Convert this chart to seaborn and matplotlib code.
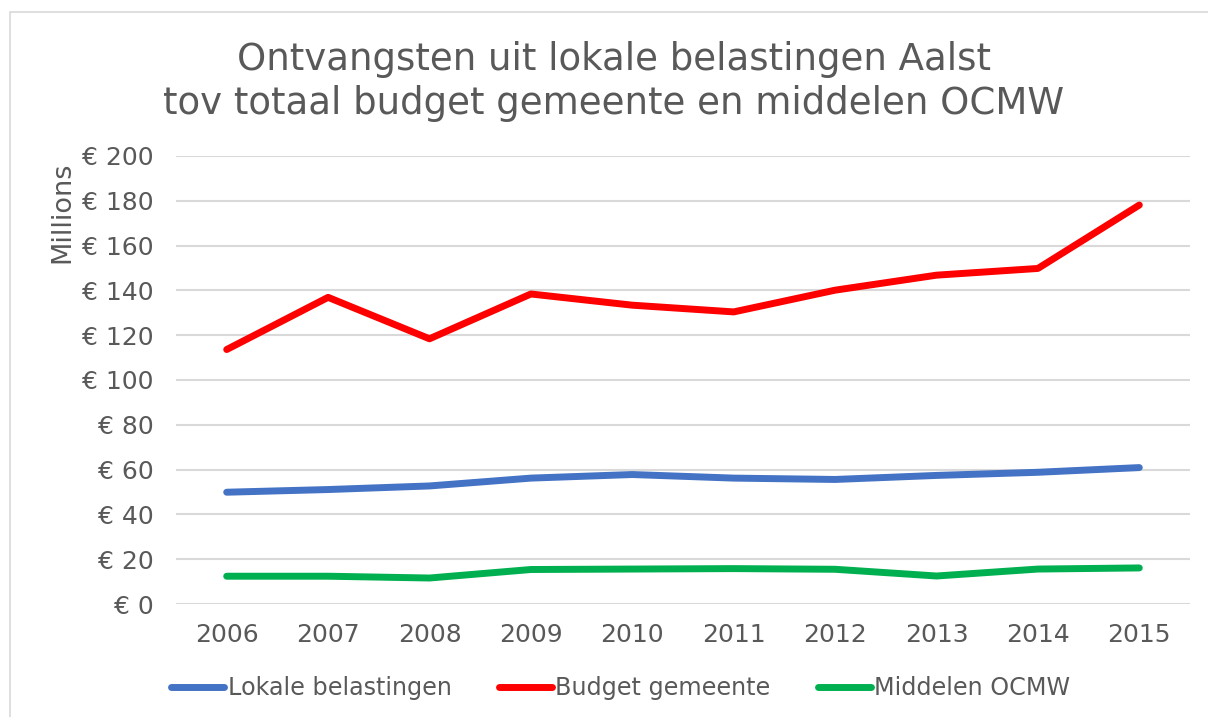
import pandas as pd
import matplotlib.pyplot as plt
import matplotlib.patches as patches
import seaborn as sns

years = ["2006", "2007", "2008", "2009", "2010", "2011", "2012", "2013", "2014", "2015"]
lokale_belastingen = [49.9, 51.1, 52.7, 56.2, 57.8, 56.2, 55.6, 57.4, 58.8, 60.9]
budget_gemeente = [113.6, 136.9, 118.4, 138.4, 133.4, 130.4, 140.1, 146.8, 149.8, 178.1]
middelen_ocmw = [12.4, 12.4, 11.6, 15.4, 15.6, 15.8, 15.5, 12.5, 15.6, 16.1]
series_names = ["Lokale belastingen", "Budget gemeente", "Middelen OCMW"]
y_ticks = [0, 20, 40, 60, 80, 100, 120, 140, 160, 180, 200]

colors = {"Lokale belastingen": "#4472C4", "Budget gemeente": "#FF0000", "Middelen OCMW": "#00B050"}
text_color = "#595959"

rows = []
for name, values in zip(series_names, [lokale_belastingen, budget_gemeente, middelen_ocmw]):
    for i, (yr, v) in enumerate(zip(years, values)):
        rows.append({"pos": i, "Jaar": yr, "Waarde": v, "Reeks": name})
df = pd.DataFrame(rows)

sns.set_style("white")
plt.rcParams["font.family"] = ["DejaVu Sans"]

fig = plt.figure(figsize=(12.08, 7.17), dpi=100)
W, H = 1208, 717
ax = fig.add_axes([176 / W, 1 - 604 / H, (1190 - 176) / W, (604 - 156) / H])

# chart area border
fig.patches.append(patches.Rectangle((10 / W, -0.01), 1.02, 1 - 12 / H + 0.01,
                                     transform=fig.transFigure, fill=False,
                                     edgecolor="#d9d9d9", linewidth=1.2))

sns.lineplot(data=df, x="pos", y="Waarde", hue="Reeks", palette=colors,
             linewidth=5, ax=ax, legend=False, solid_capstyle="round")

ax.set_xlim(-0.5, 9.5)
ax.set_ylim(0, 200)
ax.set_yticks(y_ticks)
ax.set_yticklabels([f"€ {t}" for t in y_ticks])
ax.set_xticks(range(len(years)))
ax.set_xticklabels(years)
ax.tick_params(axis="both", length=0, labelsize=18, labelcolor=text_color)
ax.tick_params(axis="y", pad=16)
ax.tick_params(axis="x", pad=14)
ax.grid(axis="y", color="#d9d9d9", linewidth=1.5)
ax.set_axisbelow(True)
for s in ax.spines.values():
    s.set_visible(False)
ax.set_xlabel("")
ax.set_ylabel("")

fig.text(62 / W, 1 - 212 / H, "Millions", rotation=90, ha="center", va="center",
         fontsize=19.5, color=text_color)

fig.text(614 / W, 1 - 60 / H, "Ontvangsten uit lokale belastingen Aalst", ha="center",
         va="center", fontsize=26.7, color=text_color)
fig.text(614 / W, 1 - 103 / H, "tov totaal budget gemeente en middelen OCMW", ha="center",
         va="center", fontsize=26.7, color=text_color)

handles = [plt.Line2D([0], [0], color=colors[n], linewidth=5, solid_capstyle="round")
           for n in series_names]
fig.legend(handles, series_names, loc="center", bbox_to_anchor=(621 / W, 1 - 688 / H),
           ncol=3, frameon=False, fontsize=17.2, labelcolor=text_color,
           handlelength=2.2, handletextpad=0.15, columnspacing=2.0)

fig.savefig("out.png", dpi=100)
